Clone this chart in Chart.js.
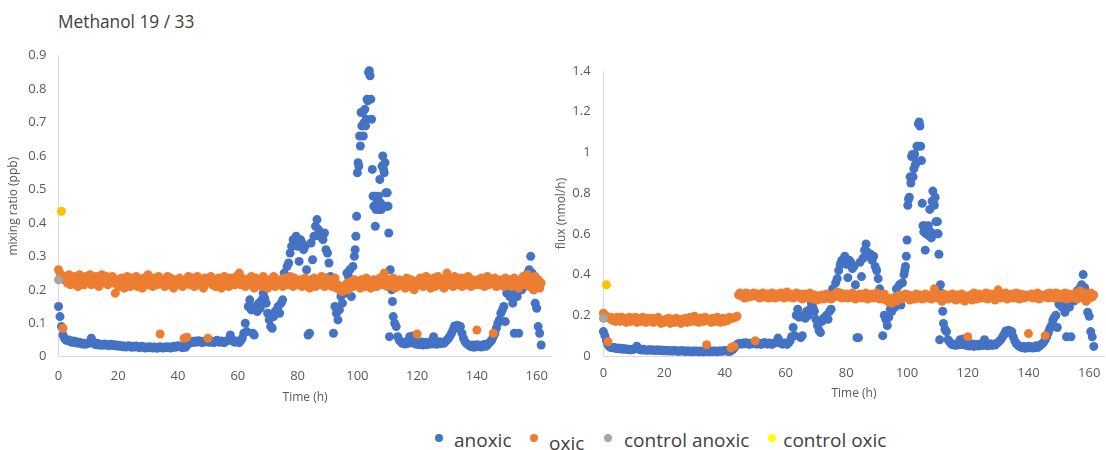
<!DOCTYPE html>
<html>
<head>
<meta charset="utf-8">
<script src="https://cdn.jsdelivr.net/npm/chart.js@4.4.1/dist/chart.umd.min.js"></script>
<style>
html,body{margin:0;padding:0;background:#fff;}
body{width:1106px;height:450px;overflow:hidden;position:relative;font-family:'Open Sans',sans-serif;}
#title{position:absolute;left:58px;top:13px;font-size:17.3px;line-height:1;color:#404040;white-space:nowrap;}
canvas{position:absolute;top:0;}
#cl{left:0;}
#cr{left:545px;}
.lg-dot{position:absolute;width:8px;height:8px;border-radius:50%;}
.lg-txt{position:absolute;font-size:19px;line-height:1;color:#404040;white-space:nowrap;}
</style>
</head>
<body>
<div id="title">Methanol 19 / 33</div>
<canvas id="cl" width="560" height="420"></canvas>
<canvas id="cr" width="565" height="420"></canvas>
<div id="legend"></div>
<script>
const chartTitle = 'Methanol 19 / 33';
const seriesNames = ['anoxic', 'oxic', 'control anoxic', 'control oxic'];
const seriesColors = ['#4472C4', '#ED7D31', '#A5A5A5', '#FFC000'];
const legendColors = ['#4472C4', '#ED7D31', '#A5A5A5', '#FFFF00'];
const xTitle = 'Time (h)';
const ratioTitle = 'mixing ratio (ppb)';
const fluxTitle = 'flux (nmol/h)';
const xTickValues = [0, 20, 40, 60, 80, 100, 120, 140, 160];
const xTickLabels = ['0', '20', '40', '60', '80', '100', '120', '140', '160'];
const ratioTickValues = [0, 0.1, 0.2, 0.3, 0.4, 0.5, 0.6, 0.7, 0.8, 0.9];
const ratioTickLabels = ['0', '0.1', '0.2', '0.3', '0.4', '0.5', '0.6', '0.7', '0.8', '0.9'];
const fluxTickValues = [0, 0.2, 0.4, 0.6, 0.8, 1, 1.2, 1.4];
const fluxTickLabels = ['0', '0.2', '0.4', '0.6', '0.8', '1', '1.2', '1.4'];

const oxicTime = [
0,0.5,1,1.5,2,2.5,3,3.5,4,4.5,
5,5.5,6,6.5,7,7.5,8,8.5,9,9.5,
10,10.5,11,11.5,12,12.5,13,13.5,14,14.5,
15,15.5,16,16.5,17,17.5,18,18.5,19,19.5,
20,20.5,21,21.5,22,22.5,23,23.5,24,24.5,
25,25.5,26,26.5,27,27.5,28,28.5,29,29.5,
30,30.5,31,31.5,32,32.5,33,33.5,34,34.5,
35,35.5,36,36.5,37,37.5,38,38.5,39,39.5,
40,40.5,41,41.5,42,42.5,43,43.5,44,44.5,
45,45.5,46,46.5,47,47.5,48,48.5,49,49.5,
50,50.5,51,51.5,52,52.5,53,53.5,54,54.5,
55,55.5,56,56.5,57,57.5,58,58.5,59,59.5,
60,60.5,61,61.5,62,62.5,63,63.5,64,64.5,
65,65.5,66,66.5,67,67.5,68,68.5,69,69.5,
70,70.5,71,71.5,72,72.5,73,73.5,74,74.5,
75,75.5,76,76.5,77,77.5,78,78.5,79,79.5,
80,80.5,81,81.5,82,82.5,83,83.5,84,84.5,
85,85.5,86,86.5,87,87.5,88,88.5,89,89.5,
90,90.5,91,91.5,92,92.5,93,93.5,94,94.5,
95,95.5,96,96.5,97,97.5,98,98.5,99,99.5,
100,100.5,101,101.5,102,102.5,103,103.5,104,104.5,
105,105.5,106,106.5,107,107.5,108,108.5,109,109.5,
110,110.5,111,111.5,112,112.5,113,113.5,114,114.5,
115,115.5,116,116.5,117,117.5,118,118.5,119,119.5,
120,120.5,121,121.5,122,122.5,123,123.5,124,124.5,
125,125.5,126,126.5,127,127.5,128,128.5,129,129.5,
130,130.5,131,131.5,132,132.5,133,133.5,134,134.5,
135,135.5,136,136.5,137,137.5,138,138.5,139,139.5,
140,140.5,141,141.5,142,142.5,143,143.5,144,144.5,
145,145.5,146,146.5,147,147.5,148,148.5,149,149.5,
150,150.5,151,151.5,152,152.5,153,153.5,154,154.5,
155,155.5,156,156.5,157,157.5,158,158.5,159,159.5,
160,160.5,161,161.5];

const oxicRatio = [
0.26,0.25,0.24,0.085,0.23,0.24,0.22,0.245,0.215,0.23,
0.24,0.22,0.235,0.21,0.245,0.225,0.235,0.215,0.24,0.225,
0.23,0.245,0.215,0.235,0.22,0.24,0.225,0.21,0.235,0.245,
0.22,0.23,0.24,0.215,0.235,0.225,0.24,0.22,0.19,0.23,
0.21,0.225,0.235,0.215,0.205,0.23,0.24,0.22,0.21,0.235,
0.225,0.215,0.24,0.21,0.23,0.22,0.205,0.235,0.225,0.215,
0.245,0.22,0.23,0.21,0.235,0.225,0.215,0.24,0.068,0.22,
0.23,0.21,0.225,0.24,0.215,0.235,0.22,0.205,0.23,0.225,
0.215,0.235,0.22,0.21,0.055,0.23,0.058,0.24,0.215,0.225,
0.235,0.21,0.225,0.24,0.22,0.215,0.23,0.205,0.235,0.225,
0.055,0.22,0.24,0.215,0.23,0.21,0.225,0.235,0.22,0.205,
0.23,0.24,0.215,0.225,0.21,0.235,0.22,0.23,0.215,0.24,
0.225,0.25,0.215,0.235,0.22,0.21,0.23,0.225,0.215,0.24,
0.22,0.205,0.235,0.225,0.215,0.23,0.21,0.24,0.22,0.225,
0.205,0.23,0.215,0.225,0.24,0.21,0.22,0.23,0.215,0.225,
0.21,0.235,0.22,0.215,0.23,0.24,0.225,0.21,0.235,0.22,
0.225,0.215,0.23,0.21,0.22,0.235,0.215,0.225,0.205,0.23,
0.22,0.235,0.21,0.225,0.215,0.23,0.24,0.22,0.21,0.235,
0.225,0.215,0.23,0.21,0.22,0.235,0.205,0.215,0.2,0.21,
0.195,0.205,0.21,0.22,0.2,0.215,0.225,0.21,0.23,0.22,
0.215,0.225,0.205,0.23,0.22,0.21,0.235,0.215,0.225,0.205,
0.22,0.23,0.215,0.21,0.225,0.235,0.22,0.215,0.25,0.225,
0.21,0.23,0.22,0.215,0.235,0.205,0.225,0.21,0.23,0.22,
0.215,0.225,0.205,0.235,0.22,0.21,0.23,0.215,0.2,0.225,
0.068,0.215,0.235,0.22,0.21,0.225,0.24,0.215,0.23,0.205,
0.22,0.235,0.21,0.225,0.24,0.215,0.23,0.22,0.205,0.235,
0.25,0.225,0.215,0.23,0.21,0.24,0.22,0.225,0.215,0.235,
0.21,0.225,0.235,0.215,0.24,0.22,0.21,0.23,0.225,0.215,
0.08,0.23,0.215,0.235,0.22,0.21,0.225,0.24,0.215,0.23,
0.22,0.07,0.235,0.21,0.225,0.215,0.23,0.22,0.21,0.235,
0.225,0.215,0.23,0.21,0.22,0.235,0.215,0.225,0.205,0.23,
0.22,0.24,0.215,0.23,0.245,0.21,0.225,0.235,0.2,0.24,
0.215,0.23,0.205,0.22];

const oxicFlux = [
0.21,0.2,0.195,0.07,0.185,0.19,0.175,0.185,0.17,0.19,
0.18,0.17,0.19,0.175,0.185,0.165,0.18,0.19,0.17,0.185,
0.175,0.19,0.165,0.18,0.185,0.17,0.19,0.175,0.165,0.185,
0.18,0.17,0.185,0.165,0.18,0.175,0.19,0.17,0.16,0.175,
0.165,0.18,0.17,0.185,0.16,0.175,0.18,0.165,0.185,0.17,
0.175,0.16,0.18,0.17,0.185,0.165,0.175,0.19,0.17,0.18,
0.195,0.17,0.18,0.165,0.185,0.175,0.17,0.19,0.055,0.175,
0.18,0.165,0.185,0.175,0.17,0.19,0.18,0.165,0.175,0.185,
0.17,0.18,0.175,0.19,0.04,0.185,0.048,0.19,0.195,0.3,
0.31,0.295,0.3,0.285,0.31,0.3,0.29,0.305,0.295,0.31,
0.075,0.295,0.305,0.285,0.3,0.31,0.29,0.3,0.305,0.285,
0.295,0.31,0.3,0.285,0.305,0.29,0.3,0.31,0.295,0.285,
0.3,0.315,0.29,0.305,0.295,0.285,0.3,0.31,0.29,0.305,
0.295,0.28,0.305,0.29,0.3,0.285,0.31,0.295,0.28,0.3,
0.29,0.275,0.295,0.285,0.3,0.28,0.29,0.305,0.285,0.295,
0.28,0.3,0.29,0.305,0.315,0.295,0.31,0.285,0.3,0.29,
0.305,0.285,0.3,0.29,0.31,0.295,0.28,0.3,0.29,0.305,
0.285,0.3,0.295,0.31,0.28,0.3,0.29,0.305,0.285,0.3,
0.31,0.295,0.28,0.3,0.29,0.305,0.275,0.285,0.265,0.28,
0.26,0.275,0.29,0.27,0.285,0.3,0.28,0.295,0.29,0.305,
0.285,0.3,0.275,0.295,0.29,0.28,0.305,0.285,0.3,0.29,
0.28,0.295,0.305,0.285,0.3,0.29,0.28,0.3,0.33,0.295,
0.285,0.3,0.29,0.27,0.305,0.285,0.295,0.28,0.3,0.29,
0.305,0.285,0.275,0.3,0.29,0.28,0.305,0.29,0.27,0.295,
0.095,0.285,0.3,0.275,0.31,0.29,0.28,0.305,0.295,0.285,
0.3,0.29,0.31,0.28,0.295,0.305,0.285,0.3,0.275,0.31,
0.325,0.295,0.285,0.305,0.29,0.31,0.28,0.3,0.29,0.305,
0.285,0.3,0.31,0.29,0.28,0.305,0.295,0.285,0.3,0.29,
0.11,0.295,0.305,0.285,0.3,0.29,0.31,0.28,0.3,0.295,
0.29,0.1,0.305,0.285,0.31,0.295,0.3,0.285,0.31,0.29,
0.305,0.285,0.3,0.29,0.31,0.28,0.295,0.305,0.285,0.3,
0.29,0.31,0.28,0.305,0.32,0.295,0.285,0.31,0.27,0.3,
0.285,0.31,0.29,0.3];

const anoxicTime = [
0,0.5,1,1.5,2,2.5,3,3.5,4,4.5,
5,5.5,6,6.5,7,7.5,8,8.5,9,9.5,
10,10.5,11,11.5,12,12.5,13,13.5,14,14.5,
15,15.5,16,16.5,17,17.5,18,18.5,19,19.5,
20,20.5,21,21.5,22,22.5,23,23.5,24,24.5,
25,25.5,26,26.5,27,27.5,28,28.5,29,29.5,
30,30.5,31,31.5,32,32.5,33,33.5,34,34.5,
35,35.5,36,36.5,37,37.5,38,38.5,39,39.5,
40,40.5,41,41.5,42,42.5,43,43.5,44,44.5,
45,45.5,46,46.5,47,47.5,48,48.5,49,49.5,
50,50.5,51,51.5,52,52.5,53,53.5,54,54.5,
55,55.5,56,56.5,57,57.5,58,58.5,59,59.5,
60,60.5,61,61.5,62,62.5,63,63.5,64,64.5,
65,65.5,66,66.5,67,67.5,68,68.5,69,69.5,
70,70.5,71,71.5,72,72.5,73,73.5,74,74.5,
75,75.5,76,76.5,77,77.5,78,78.5,79,79.5,
80,80.5,81,81.5,82,82.5,83,83.5,84,84.5,
85,85.5,86,86.5,87,87.5,88,88.5,89,89.5,
90,90.5,91,91.5,92,92.5,93,93.5,94,94.5,
95,95.5,96,96.5,97,97.5,98,98.5,99,
99.25,99.5,99.75,100,100.25,100.5,100.75,101,101.25,101.5,101.75,102,102.25,
102.5,102.75,103,103.25,103.5,103.75,104,104.25,104.5,104.75,105,105.25,105.5,
105.75,106,106.25,106.5,106.75,107,107.25,107.5,107.75,108,108.25,108.5,108.75,
109,109.25,109.5,109.75,110,110.25,110.5,110.75,111,111.25,111.5,111.75,112,
112.5,113,113.5,114,114.5,115,115.5,116,116.5,117,
117.5,118,118.5,119,119.5,120,120.5,121,121.5,122,
122.5,123,123.5,124,124.5,125,125.5,126,126.5,127,
127.5,128,128.5,129,129.5,130,130.5,131,131.5,132,
132.5,133,133.5,134,134.5,135,135.5,136,136.5,137,
137.5,138,138.5,139,139.5,140,140.5,141,141.5,142,
142.5,143,143.5,144,144.5,145,145.5,146,146.5,147,
147.5,148,148.5,149,149.5,150,150.5,151,151.5,152,
152.5,153,153.5,154,154.5,155,155.5,156,156.5,157,
157.5,158,158.5,159,159.5,160,160.5,161,161.5];

const anoxicRatio = [
0.15,0.12,0.09,0.065,0.055,0.05,0.048,0.05,0.045,0.043,
0.047,0.042,0.045,0.04,0.043,0.041,0.038,0.04,0.037,0.039,
0.04,0.045,0.055,0.045,0.038,0.036,0.04,0.035,0.037,0.034,
0.036,0.038,0.034,0.036,0.033,0.037,0.035,0.033,0.036,0.032,
0.034,0.031,0.033,0.03,0.032,0.029,0.031,0.033,0.03,0.028,
0.031,0.029,0.032,0.03,0.027,0.029,0.031,0.028,0.026,0.029,
0.027,0.03,0.028,0.026,0.029,0.027,0.025,0.028,0.03,0.027,
0.026,0.029,0.027,0.03,0.028,0.026,0.029,0.031,0.028,0.03,
0.033,0.031,0.029,0.027,0.032,0.028,0.035,0.04,0.045,0.042,
0.046,0.043,0.047,0.044,0.048,0.045,0.042,0.046,0.044,0.048,
0.045,0.043,0.047,0.044,0.042,0.046,0.049,0.045,0.043,0.047,
0.044,0.042,0.046,0.048,0.05,0.065,0.052,0.046,0.043,0.047,
0.045,0.042,0.048,0.055,0.07,0.1,0.075,0.15,0.17,0.14,
0.07,0.065,0.15,0.135,0.16,0.145,0.17,0.19,0.175,0.16,
0.13,0.11,0.09,0.085,0.12,0.135,0.14,0.15,0.13,0.16,
0.17,0.25,0.23,0.27,0.28,0.31,0.33,0.35,0.34,0.36,
0.33,0.285,0.35,0.34,0.32,0.33,0.26,0.065,0.07,0.34,
0.29,0.36,0.39,0.41,0.38,0.36,0.37,0.35,0.37,0.32,
0.31,0.28,0.24,0.22,0.07,0.15,0.13,0.11,0.14,0.18,
0.16,0.2,0.19,0.25,0.24,0.26,0.18,0.27,0.3,
0.32,0.36,0.42,0.55,0.58,0.57,0.66,0.63,0.73,0.69,0.73,0.66,0.7,
0.74,0.69,0.71,0.77,0.765,0.85,0.855,0.84,0.77,0.71,0.56,0.48,0.45,
0.48,0.39,0.44,0.46,0.45,0.48,0.44,0.53,0.46,0.44,0.57,0.6,0.56,
0.55,0.58,0.49,0.45,0.49,0.45,0.37,0.06,0.26,0.23,0.2,0.165,0.12,
0.1,0.09,0.06,0.05,0.045,0.04,0.043,0.038,0.045,0.04,
0.06,0.042,0.062,0.045,0.038,0.042,0.036,0.04,0.044,0.035,
0.039,0.043,0.036,0.04,0.045,0.038,0.06,0.042,0.037,0.041,
0.045,0.039,0.043,0.04,0.046,0.05,0.055,0.062,0.07,0.08,
0.092,0.09,0.094,0.085,0.09,0.07,0.055,0.045,0.04,0.036,
0.033,0.03,0.035,0.028,0.032,0.036,0.03,0.034,0.029,0.033,
0.037,0.031,0.035,0.04,0.045,0.05,0.06,0.07,0.085,0.1,
0.11,0.13,0.14,0.15,0.105,0.19,0.2,0.18,0.19,0.16,
0.07,0.2,0.18,0.07,0.21,0.2,0.22,0.24,0.23,0.25,
0.26,0.3,0.25,0.2,0.16,0.145,0.09,0.07,0.035];

const anoxicFlux = [
0.12,0.1,0.075,0.055,0.045,0.042,0.04,0.042,0.038,0.036,
0.039,0.035,0.037,0.033,0.036,0.034,0.031,0.033,0.03,0.032,
0.033,0.037,0.048,0.037,0.031,0.029,0.033,0.029,0.03,0.028,
0.03,0.031,0.028,0.03,0.027,0.03,0.029,0.027,0.03,0.026,
0.028,0.025,0.027,0.025,0.026,0.024,0.025,0.027,0.025,0.023,
0.025,0.024,0.026,0.025,0.022,0.024,0.025,0.023,0.021,0.024,
0.022,0.025,0.023,0.021,0.024,0.022,0.02,0.023,0.025,0.022,
0.021,0.024,0.022,0.025,0.023,0.021,0.024,0.025,0.023,0.025,
0.027,0.025,0.024,0.022,0.026,0.03,0.038,0.048,0.056,0.06,
0.062,0.058,0.064,0.06,0.065,0.061,0.057,0.063,0.06,0.065,
0.061,0.058,0.064,0.06,0.057,0.062,0.066,0.061,0.058,0.064,
0.06,0.057,0.062,0.065,0.068,0.088,0.07,0.062,0.058,0.064,
0.061,0.057,0.065,0.075,0.095,0.14,0.1,0.2,0.23,0.19,
0.09,0.1,0.2,0.185,0.22,0.2,0.23,0.26,0.24,0.22,
0.18,0.15,0.125,0.115,0.17,0.185,0.19,0.2,0.18,0.22,
0.23,0.33,0.31,0.36,0.38,0.42,0.45,0.47,0.46,0.49,
0.45,0.385,0.47,0.46,0.43,0.44,0.35,0.09,0.09,0.46,
0.39,0.48,0.52,0.55,0.51,0.49,0.5,0.47,0.49,0.44,
0.42,0.38,0.33,0.3,0.1,0.2,0.18,0.15,0.19,0.23,
0.22,0.25,0.24,0.33,0.3,0.35,0.25,0.36,0.4,
0.42,0.44,0.49,0.57,0.74,0.77,0.78,0.88,0.85,0.98,0.99,0.88,0.92,
0.99,0.94,0.95,1.03,1.03,1.14,1.15,1.13,1.03,0.96,0.75,0.64,0.61,
0.64,0.52,0.6,0.62,0.6,0.64,0.59,0.72,0.61,0.58,0.76,0.81,0.75,
0.74,0.78,0.66,0.6,0.66,0.6,0.5,0.08,0.35,0.31,0.27,0.22,0.16,
0.13,0.12,0.08,0.07,0.06,0.055,0.058,0.052,0.06,0.055,
0.08,0.056,0.083,0.06,0.052,0.056,0.049,0.054,0.059,0.047,
0.053,0.058,0.049,0.054,0.06,0.051,0.08,0.056,0.05,0.055,
0.06,0.052,0.058,0.054,0.062,0.067,0.074,0.083,0.094,0.107,
0.123,0.12,0.127,0.114,0.12,0.094,0.074,0.06,0.054,0.048,
0.044,0.04,0.047,0.038,0.043,0.048,0.04,0.046,0.039,0.044,
0.05,0.042,0.047,0.054,0.06,0.067,0.08,0.094,0.114,0.134,
0.148,0.175,0.19,0.2,0.14,0.255,0.27,0.24,0.255,0.215,
0.094,0.27,0.24,0.094,0.28,0.27,0.295,0.32,0.31,0.335,
0.35,0.4,0.335,0.27,0.215,0.195,0.12,0.094,0.047];

const controlAnoxicTime = [0];
const controlAnoxicRatio = [0.23];
const controlAnoxicFlux = [0.185];
const controlOxicTime = [1];
const controlOxicRatio = [0.435];
const controlOxicFlux = [0.35];

function pts(t, v) { return t.map((x, i) => ({ x: x, y: v[i] })); }

const FONT = 'Open Sans';
const TXT = '#595959';

function build(id, series, g) {
  return new Chart(document.getElementById(id), {
    type: 'scatter',
    data: {
      datasets: series.map((s, k) => ({
        label: seriesNames[k], data: s,
        backgroundColor: seriesColors[k], borderColor: seriesColors[k],
        borderWidth: 0, pointRadius: 4.5, pointHoverRadius: 4.5,
        order: 4 - k, clip: false
      }))
    },
    options: {
      responsive: false, animation: false, events: [],
      layout: { padding: { left: 0, top: g.top, right: g.right, bottom: g.bottom } },
      plugins: { legend: { display: false }, tooltip: { enabled: false } },
      scales: {
        x: {
          type: 'linear', position: 'bottom', min: 0, max: 165,
          grid: { display: false, drawTicks: false, tickLength: 0 },
          border: { display: true, color: '#D9D9D9', width: 1 },
          ticks: { padding: g.xPad, color: TXT, font: { family: FONT, size: 13 }, maxRotation: 0, autoSkip: false,
                   callback: (v, i) => xTickLabels[i] },
          afterBuildTicks: s => { s.ticks = xTickValues.map(v => ({ value: v })); },
          afterFit: s => { s.height = g.xH; },
          title: { display: true, text: xTitle, color: TXT, font: { family: FONT, size: 12 }, padding: { top: 0, bottom: 0 } }
        },
        y: {
          type: 'linear', position: 'left', min: 0, max: g.yMax,
          grid: { display: false, drawTicks: false, tickLength: 0 },
          border: { display: true, color: '#D9D9D9', width: 1 },
          ticks: { padding: g.yPad, color: TXT, font: { family: FONT, size: 13 }, autoSkip: false,
                   callback: (v, i) => g.yLabels[i] },
          afterBuildTicks: s => { s.ticks = g.yValues.map(v => ({ value: v })); },
          afterFit: s => { s.width = g.yW; },
          title: { display: true, text: g.yTitle, color: TXT, font: { family: FONT, size: g.yTitleSize }, padding: { top: g.yTitlePad, bottom: 0 } }
        }
      }
    }
  });
}

build('cl', [
  pts(anoxicTime, anoxicRatio), pts(oxicTime, oxicRatio),
  pts(controlAnoxicTime, controlAnoxicRatio), pts(controlOxicTime, controlOxicRatio)
], { top: 55.7, right: 5.7, bottom: 15.6, xH: 47.7, xPad: 12, yW: 58.5, yPad: 12, yMax: 0.9,
     yValues: ratioTickValues, yLabels: ratioTickLabels, yTitle: ratioTitle, yTitleSize: 12, yTitlePad: 6.8 });

build('cr', [
  pts(anoxicTime, anoxicFlux), pts(oxicTime, oxicFlux),
  pts(controlAnoxicTime, controlAnoxicFlux), pts(controlOxicTime, controlOxicFlux)
], { top: 71, right: 3, bottom: 19.5, xH: 44.5, xPad: 9.5, yW: 58.4, yPad: 12.8, yMax: 1.4,
     yValues: fluxTickValues, yLabels: fluxTickLabels, yTitle: fluxTitle, yTitleSize: 12, yTitlePad: 9.8 });

// legend (HTML text)
const legendDotX = [439.3, 534.3, 608.3, 771.7];
const legendTextX = [454, 549, 624, 783.3];
const legendTextTop = [431.4, 434, 431.4, 431.4];
const lg = document.getElementById('legend');
seriesNames.forEach((name, k) => {
  const d = document.createElement('div');
  d.className = 'lg-dot';
  d.style.left = (legendDotX[k] - 4) + 'px';
  d.style.top = (438.3 - 4) + 'px';
  d.style.background = legendColors[k];
  lg.appendChild(d);
  const t = document.createElement('div');
  t.className = 'lg-txt';
  t.style.left = legendTextX[k] + 'px';
  t.style.top = legendTextTop[k] + 'px';
  t.textContent = name;
  lg.appendChild(t);
});
</script>
</body>
</html>
